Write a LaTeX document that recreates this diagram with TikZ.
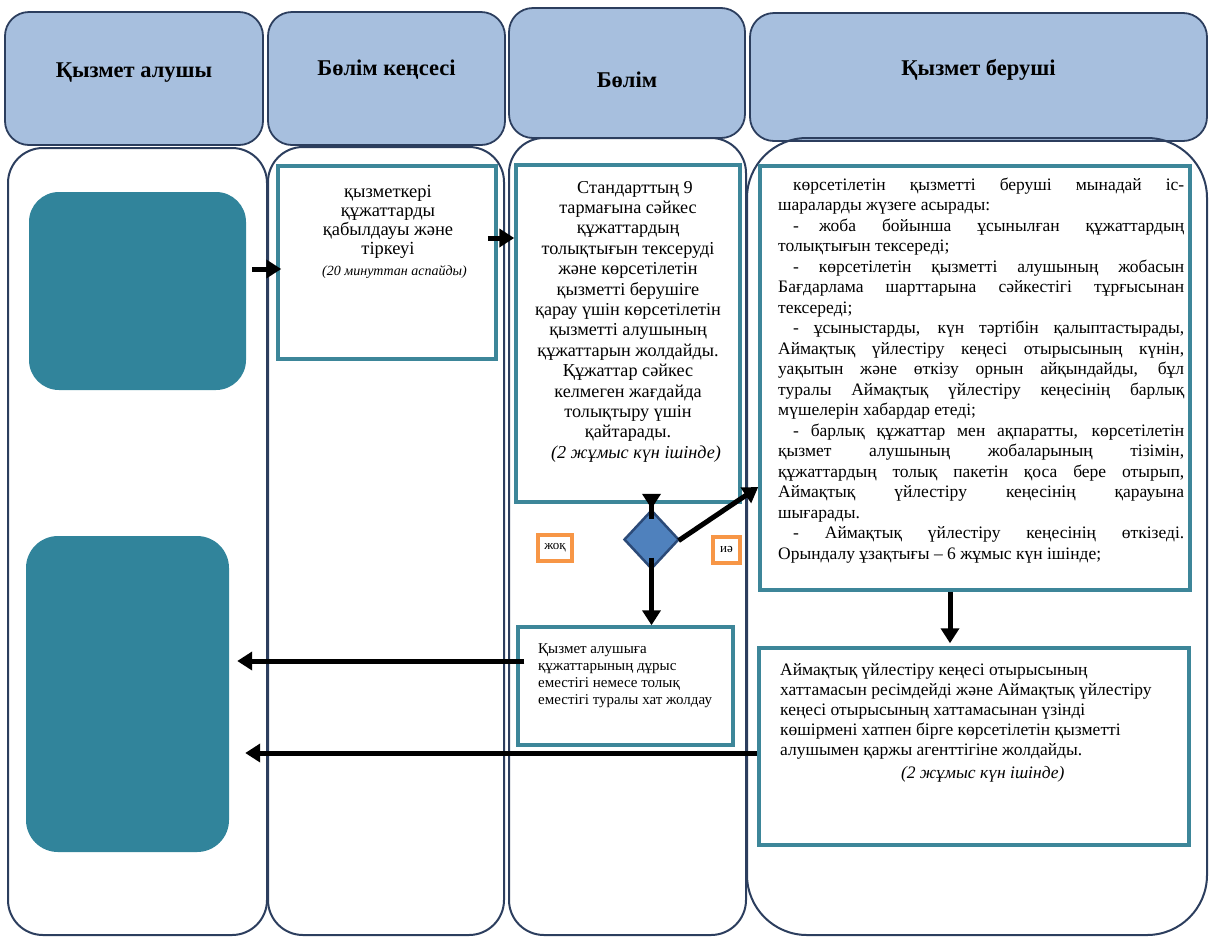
\documentclass[tikz,border=0pt]{standalone}
\usepackage{fontspec}
\setmainfont{Liberation Serif}
\usetikzlibrary{arrows.meta,shapes.geometric}
\definecolor{hdrfill}{HTML}{A7BFDE}
\definecolor{navy}{HTML}{2C3E5E}
\definecolor{tealblk}{HTML}{31849B}
\definecolor{boxline}{HTML}{3D8699}
\definecolor{dfill}{HTML}{4F81BD}
\definecolor{dline}{HTML}{2B4A78}
\definecolor{orng}{HTML}{F79646}
\tikzset{
 hdr/.style={draw=navy, line width=1.8pt, fill=hdrfill, rounded corners=24pt, font=\bfseries\fontsize{22.5}{25}\selectfont, inner sep=0pt},
 lane/.style={draw=navy, line width=2pt},
 blk/.style={fill=tealblk, rounded corners=30pt, inner sep=0pt},
 pbox/.style={draw=boxline, line width=3.5pt, inner sep=0pt},
 txt/.style={inner sep=0pt},
 arr/.style={line width=5pt, -{Triangle[length=15pt,width=18pt]}},
 dia/.style={diamond, draw=dline, line width=2.5pt, fill=dfill, inner sep=0pt, minimum width=55pt, minimum height=59pt},
 lbl/.style={draw=orng, line width=4pt, font=\fontsize{13}{15}\selectfont, inner sep=0pt}
}
\begin{document}
\begin{tikzpicture}[x=1pt,y=-1pt]
\useasboundingbox (0,0) rectangle (1209,938);
% headers
\node[hdr, minimum width=258pt, minimum height=133pt, text height=15pt, text depth=18pt] (h1) at (134,78.5) {Қызмет алушы};
\node[hdr, minimum width=237pt, minimum height=133pt, text height=15pt, text depth=22pt] (h2) at (386.5,78.5) {Бөлім кеңсесі};
\node[hdr, minimum width=236pt, minimum height=130pt, text height=30pt, text depth=2pt] (h3) at (627,73) {Бөлім};
\node[hdr, minimum width=457pt, minimum height=128pt, text height=15pt, text depth=19pt] (h4) at (978.5,77) {Қызмет беруші};
% lanes
\draw[lane, rounded corners=35pt] (8,148) rectangle (267,935);
\draw[lane, rounded corners=35pt] (268,147) rectangle (504,935);
\draw[lane, rounded corners=35pt] (509,138) rectangle (746,935);
\draw[lane, rounded corners=60pt] (747,138) rectangle (1207,935);
% teal blocks
\node[blk, minimum width=217pt, minimum height=198pt] (c1) at (137.5,291) {};
\node[blk, minimum width=203pt, minimum height=316pt, rounded corners=32pt] (c2) at (127.5,694) {};
% process boxes
\node[pbox, minimum width=218pt, minimum height=193pt] (p1) at (387,262.5) {};
\node[pbox, minimum width=224pt, minimum height=337pt] (p2) at (628,333.5) {};
\node[pbox, minimum width=430pt, minimum height=424pt] (p3) at (975,378) {};
\node[pbox, minimum width=215pt, minimum height=118pt] (p4) at (625.5,686) {};
\node[pbox, minimum width=430pt, minimum height=197pt] (p5) at (974,746.5) {};
\node[dia] (d) at (651.5,539.5) {};
\node[lbl, minimum width=34pt, minimum height=26pt] (no) at (555,547.5) {жоқ};
\node[lbl, minimum width=27pt, minimum height=26pt] (yes) at (726.5,549.5) {иә};
% texts
\node[txt, anchor=base] (t1) at (388,197) {\parbox[t]{214pt}{\centering\fontsize{18.5}{19.2}\selectfont
қызметкері\\ құжаттарды\\ қабылдауы және\\ тіркеуі\par
{\itshape\fontsize{14}{21}\selectfont\hspace*{13pt}(20 минуттан аспайды)\par}}};
\node[txt, anchor=base] (t2) at (628,193) {\parbox[t]{220pt}{\centering\fontsize{18.2}{20.4}\selectfont
\hspace*{14pt}Стандарттың 9\\ тармағына сәйкес\\ құжаттардың\\ толықтығын тексеруді\\ және көрсетілетін\\ қызметті берушіге\\ қарау үшін көрсетілетін\\ қызметті алушының\\ құжаттарын жолдайды.\\ Құжаттар сәйкес\\ келмеген жағдайда\\ толықтыру үшін\\ қайтарады.\par
{\itshape\hspace*{16pt}(2 жұмыс күн ішінде)\par}}};
\node[txt, anchor=base west] (t3) at (778,190) {\parbox[t]{406pt}{\fontsize{17.5}{20.5}\selectfont
\hspace*{15pt}көрсетілетін қызметті беруші мынадай іс-\linebreak шараларды жүзеге асырады:\par
\hspace*{15pt}-\hspace{20pt}жоба бойынша ұсынылған құжаттардың\linebreak толықтығын тексереді;\par
\hspace*{15pt}- көрсетілетін қызметті алушының жобасын\linebreak Бағдарлама шарттарына сәйкестігі тұрғысынан\linebreak тексереді;\par
\hspace*{15pt}- ұсыныстарды, күн тәртібін қалыптастырады,\linebreak Аймақтық үйлестіру кеңесі отырысының күнін,\linebreak уақытын және өткізу орнын айқындайды, бұл\linebreak туралы Аймақтық үйлестіру кеңесінің барлық\linebreak мүшелерін хабардар етеді;\par
\hspace*{15pt}- барлық құжаттар мен ақпаратты, көрсетілетін\linebreak қызмет алушының жобаларының тізімін,\linebreak құжаттардың толық пакетін қоса бере отырып,\linebreak Аймақтық үйлестіру кеңесінің қарауына\linebreak шығарады.\par
\hspace*{15pt}- Аймақтық үйлестіру кеңесінің өткізеді.\linebreak Орындалу ұзақтығы – 6 жұмыс күн ішінде;\par}};
\node[txt, anchor=base west] (t4) at (538,653) {\parbox[t]{190pt}{\raggedright\fontsize{15}{17.3}\selectfont
Қызмет алушыға\\ құжаттарының дұрыс\\ еместігі немесе толық\\ еместігі туралы хат жолдау\par}};
\node[txt, anchor=base west] (t5) at (780,675) {\parbox[t]{405pt}{\raggedright\fontsize{17.5}{20}\selectfont
Аймақтық үйлестіру кеңесі отырысының\\ хаттамасын ресімдейді және Аймақтық үйлестіру\\ кеңесі отырысының хаттамасынан үзінді\\ көшірмені хатпен бірге көрсетілетін қызметті\\ алушымен қаржы агенттігіне жолдайды.\par
{\centering\itshape\fontsize{17.5}{23}\selectfont (2 жұмыс күн ішінде)\par}}};
% connectors
\coordinate (y269) at (0,269);
\coordinate (y238) at (0,238);
\coordinate (y487) at (0,487);
\coordinate (y661) at (0,661);
\coordinate (y753) at (0,753);
\coordinate (x950) at (950,0);
\draw[arr, shorten <=6pt, shorten >=-5pt] (c1.east |- y269) -- (p1.west |- y269);
\draw[arr, shorten <=-10pt] (p1.east |- y238) -- (p2.west |- y238);
\draw[arr, shorten <=-15pt] (d.north |- p2.south) -- (d.north);
\draw[arr, shorten <=-2pt] (d.east) -- (p3.west |- y487);
\draw[arr, shorten <=18pt] (d.center) -- (d.center |- p4.north);
\draw[arr, shorten >=3pt] (p3.south -| x950) -- (p5.north -| x950);
\draw[arr, shorten <=-8pt, shorten >=8pt] (p4.west |- y661) -- (c2.east |- y661);
\draw[arr, shorten >=16pt] (p5.west |- y753) -- (c2.east |- y753);
\end{tikzpicture}
\end{document}
